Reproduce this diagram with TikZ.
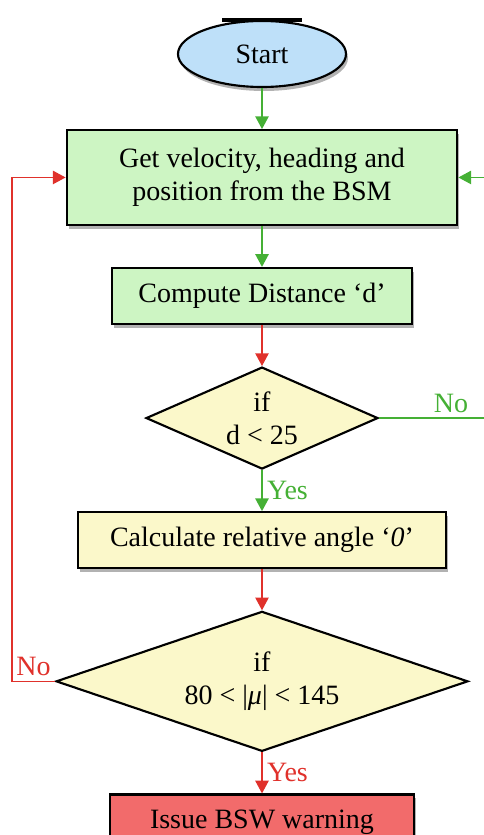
\documentclass[tikz,border=0pt]{standalone}
\usepackage{fontspec}
\setmainfont{Liberation Serif}
\usetikzlibrary{arrows.meta,positioning,shapes.geometric,shadows}
\definecolor{startfill}{HTML}{BEE0F9}
\definecolor{procfill}{HTML}{CDF5C3}
\definecolor{decfill}{HTML}{FBF8CA}
\definecolor{warnfill}{HTML}{F26B6B}
\definecolor{flowgreen}{HTML}{45B035}
\definecolor{flowred}{HTML}{E0312B}
\tikzset{
  boxshadow/.style={drop shadow={shadow xshift=1.5pt, shadow yshift=-3pt, opacity=0.3, fill=black}},
  startnode/.style={ellipse, draw, line width=1.6pt, fill=startfill, minimum width=126pt,
    minimum height=49.5pt, font=\fontsize{21}{25}\selectfont, boxshadow},
  flowbox/.style={draw, line width=1.6pt, fill=procfill, align=center, minimum height=42pt,
    font=\fontsize{21}{25}\selectfont, boxshadow},
  yellowbox/.style={flowbox, fill=decfill},
  warnbox/.style={flowbox, fill=warnfill},
  decision/.style={diamond, draw, line width=1.6pt, fill=decfill, aspect=2.2, inner sep=0pt,
    align=center, font=\fontsize{21}{25}\selectfont},
  garr/.style={-{Triangle[length=9.5pt,width=10pt]}, line width=1pt, draw=flowgreen},
  rarr/.style={-{Triangle[length=9.5pt,width=10pt]}, line width=1pt, draw=flowred},
  glabel/.style={text=flowgreen, font=\fontsize{21}{25}\selectfont},
  rlabel/.style={text=flowred, font=\fontsize{21}{25}\selectfont}
}
\begin{document}
\begin{tikzpicture}[node distance=30.75pt]
  \useasboundingbox (0,0) rectangle (363pt,-626.25pt);
  \node[startnode] (start) at (196.5pt,-40.5pt) {Start};
  \node[flowbox, minimum width=293pt, minimum height=71pt, below=of start] (getdata) {Get velocity, heading and\\position from the BSM};
  \node[flowbox, minimum width=225.5pt, below=of getdata] (dist) {Compute Distance ‘d’};
  \node[decision, minimum width=174pt, minimum height=76.5pt, below=of dist] (chkdist) {if\\d < 25};
  \node[yellowbox, minimum width=275.5pt, below=of chkdist] (angle) {Calculate relative angle ‘\textit{0}’};
  \node[decision, minimum width=309pt, minimum height=105pt, below=of angle] (chkangle) {if\\80 < |\textit{μ}| < 145};
  \node[warnbox, minimum width=228pt, below=of chkangle] (warn) {Issue BSW warning};
  \coordinate (loopx) at (9pt,0);
  \coordinate (rightedge) at (370pt,0);
  % mark above the start node
  \draw[line width=3pt] ([xshift=-30pt]start.north) -- ([xshift=30pt]start.north);
  \draw[garr] (start) -- (getdata);
  \draw[garr] (getdata) -- (dist);
  \draw[rarr] (dist) -- (chkdist);
  \draw[garr] (chkdist) -- node[glabel, right] {Yes} (angle);
  \draw[flowgreen, line width=1pt] (chkdist.east) -- node[glabel, above, pos=0.63] {No} (chkdist.east -| rightedge);
  \draw[garr] (getdata.east -| rightedge) -- (getdata.east);
  \draw[rarr] (angle) -- (chkangle);
  \draw[rarr] (chkangle) -- node[rlabel, right] {Yes} (warn);
  \draw[rarr] (chkangle.west) -- node[rlabel, above] {No} (chkangle.west -| loopx) |- (getdata.west);
\end{tikzpicture}
\end{document}
